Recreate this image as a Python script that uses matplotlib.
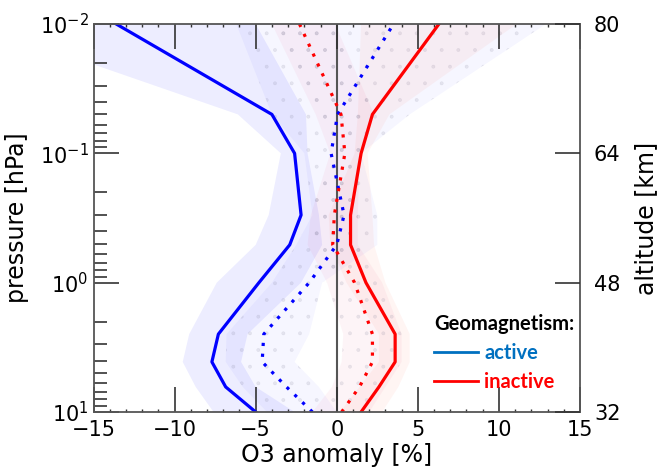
import numpy as np
import matplotlib
matplotlib.use('Agg')
import matplotlib.pyplot as plt
from matplotlib.lines import Line2D

# pressure levels (hPa)
p = [10, 6.4, 4.1, 2.5, 1.0, 0.51, 0.30, 0.1, 0.05, 0.01]

# active, solid
act_sol = [-5.0, -6.85, -7.7, -7.3, -4.8, -2.9, -2.2, -2.6, -4.0, -13.6]
act_sol_lo = [-7.6, -8.7, -9.5, -9.1, -7.4, -5.0, -4.2, -3.45, -6.1, -22.2]
act_sol_hi = [-2.6, -5.0, -5.9, -5.5, -2.2, -0.9, -1.1, -1.8, -1.9, -5.0]

# active, dotted
act_dot = [-1.5, -3.1, -4.6, -4.5, -1.7, 0.0, 0.45, -0.35, 0.05, 3.5]
act_dot_lo = [-4.3, -5.8, -6.85, -6.8, -4.0, -2.5, -1.5, -2.0, -4.0, -6.2]
act_dot_hi = [0.0, -1.1, -2.6, -1.7, -0.9, 2.5, 2.5, 1.5, 4.5, 12.9]

# inactive, solid
ina_sol = [1.5, 2.6, 3.6, 3.6, 1.8, 0.85, 0.85, 1.5, 2.2, 6.3]
ina_sol_lo = [0.2, 1.4, 2.6, 2.6, 0.6, -0.4, -0.5, 1.1, 1.3, 1.5]
ina_sol_hi = [2.8, 3.8, 4.5, 4.5, 3.0, 2.3, 2.2, 1.9, 3.25, 11.1]

# inactive, dotted
ina_dot = [0.3, 1.4, 2.2, 2.2, 1.1, -0.25, -0.15, 0.5, 0.26, -2.3]
ina_dot_lo = [-1.5, -0.3, 0.3, 0.4, -0.6, -1.8, -1.6, -0.4, -1.3, -4.0]
ina_dot_hi = [2.0, 3.0, 4.0, 4.0, 2.8, 1.3, 1.3, 1.4, 2.3, -0.1]

alt_ticks = [0.01, 0.1, 1, 10]
alt_labels = ['80', '64', '48', '32']

plt.rcParams['hatch.linewidth'] = 0.3

fig = plt.figure(figsize=(6.66, 4.67), dpi=100)
ax = fig.add_axes([0.1404, 0.1178, 0.7305, 0.8308])

hatchcol = (0.5, 0.5, 0.6, 0.16)
ax.fill_betweenx(p, act_sol_lo, act_sol_hi, facecolor=(0, 0, 1, 0.07), lw=0)
ax.fill_betweenx(p, act_dot_lo, act_dot_hi, facecolor=(0, 0, 1, 0.035),
                 edgecolor=hatchcol, hatch='.', lw=0)
ax.fill_betweenx(p, ina_sol_lo, ina_sol_hi, facecolor=(1, 0.3, 0.2, 0.055), lw=0)
ax.fill_betweenx(p, ina_dot_lo, ina_dot_hi, facecolor=(0.9, 0, 0.3, 0.045),
                 edgecolor=hatchcol, hatch='.', lw=0)

ax.axvline(0, color='#555555', lw=1.5, zorder=1.5)

dots = (0, (1, 2.4))
ax.plot(act_sol, p, color='blue', lw=2.3)
ax.plot(act_dot, p, color='blue', lw=2.3, ls=dots)
ax.plot(ina_sol, p, color='red', lw=2.3)
ax.plot(ina_dot, p, color='red', lw=2.3, ls=dots)

ax.set_yscale('log')
ax.set_ylim(10, 0.01)
ax.set_xlim(-15, 15)
ax.set_xticks([-15, -10, -5, 0, 5, 10, 15])
ax.set_xticks(np.arange(-15, 16, 1), minor=True)
ax.set_yticks([0.01, 0.1, 1, 10])
ax.set_yticklabels(['$10^{-2}$', '$10^{-1}$', '$10^{0}$', '$10^{1}$'])
ax.tick_params(axis='both', which='both', direction='in', colors='#333333',
               labelcolor='black', labelsize=15)
ax.tick_params(axis='x', which='major', length=18, width=1.2, top=True, pad=6)
ax.tick_params(axis='x', which='minor', length=2.5, width=1, top=True)
ax.tick_params(axis='y', which='major', length=18, width=1.2, right=False)
ax.tick_params(axis='y', which='minor', length=9, width=1.2, right=False)
for s in ax.spines.values():
    s.set_color('#555555')
    s.set_linewidth(1.3)

ax.set_xlabel('O3 anomaly [%]', fontsize=17, labelpad=2)
ax.set_ylabel('pressure [hPa]', fontsize=17, labelpad=8)

ax2 = ax.twinx()
ax2.set_yscale('log')
ax2.set_ylim(10, 0.01)
ax2.set_yticks(alt_ticks)
ax2.set_yticklabels(alt_labels)
ax2.yaxis.set_minor_locator(matplotlib.ticker.NullLocator())
ax2.tick_params(axis='y', direction='in', length=18, width=1.2, colors='#333333',
                labelcolor='black', labelsize=15, pad=10)
ax2.set_ylabel('altitude [km]', fontsize=17, labelpad=10)
for s in ax2.spines.values():
    s.set_visible(False)

handles = [Line2D([], [], color='#0070C0', lw=2), Line2D([], [], color='red', lw=2)]
leg = ax.legend(handles, ['active', 'inactive'], title='Geomagnetism:',
                loc='upper left', bbox_to_anchor=(0.700, 0.2526), frameon=False,
                alignment='left', borderpad=0, borderaxespad=0,
                handlelength=2.2, handletextpad=0.3, labelspacing=0.45,
                prop={'family': 'Lato', 'weight': 'bold', 'size': 14.5},
                title_fontproperties={'family': 'Lato', 'weight': 'bold', 'size': 14.5},
                labelcolor=['#0070C0', 'red'])

fig.savefig('out.png', dpi=100)
